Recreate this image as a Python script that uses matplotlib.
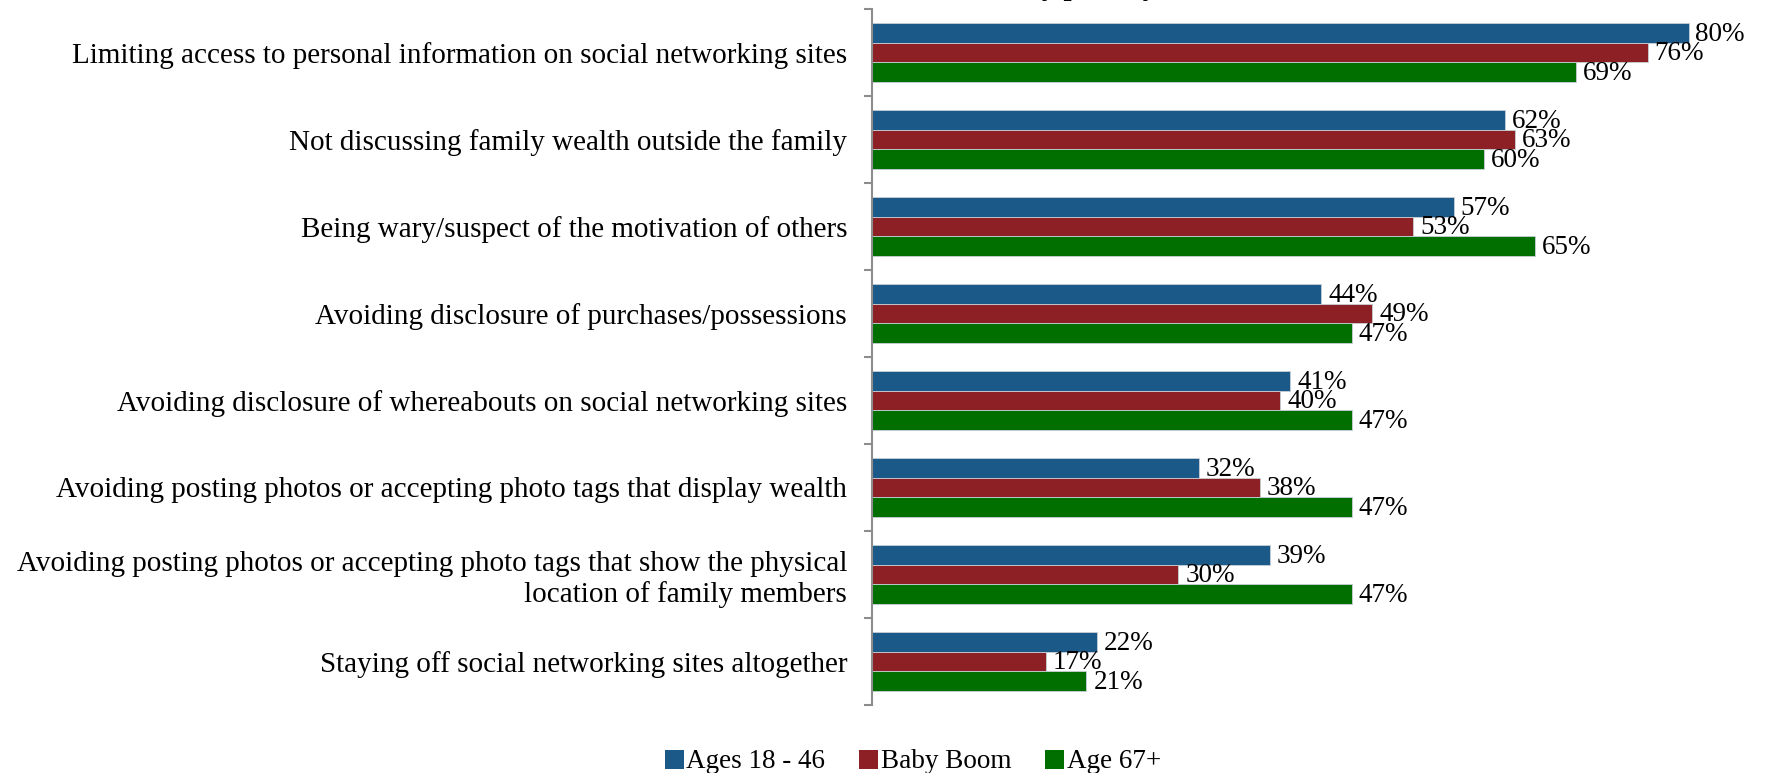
import matplotlib
matplotlib.use("Agg")
import matplotlib.pyplot as plt
from matplotlib.patches import Patch
import numpy as np

categories = [
    "Limiting access to personal information on social networking sites",
    "Not discussing family wealth outside the family",
    "Being wary/suspect of the motivation of others",
    "Avoiding disclosure of purchases/possessions",
    "Avoiding disclosure of whereabouts on social networking sites",
    "Avoiding posting photos or accepting photo tags that display wealth",
    "Avoiding posting photos or accepting photo tags that show the physical\nlocation of family members",
    "Staying off social networking sites altogether",
]
ages_18_46 = [80, 62, 57, 44, 41, 32, 39, 22]
baby_boom = [76, 63, 53, 49, 40, 38, 30, 17]
age_67_plus = [69, 60, 65, 47, 47, 47, 47, 21]

series_names = ["Ages 18 - 46", "Baby Boom", "Age 67+"]
colors = ["#1a5988", "#8c2024", "#006f00"]

plt.rcParams["font.family"] = ["Liberation Serif", "DejaVu Serif"]

fig = plt.figure(figsize=(17.66, 7.73), dpi=100)
ax = fig.add_axes([0.4938, 0.088, 0.497, 0.9004])

y = np.arange(len(categories))
h = 0.224
for k, (vals, col) in enumerate(zip([ages_18_46, baby_boom, age_67_plus], colors)):
    pos = y + (k - 1) * h
    ax.barh(pos, vals, height=h, color=col, edgecolor="#c8d0d8", linewidth=0.6)
    for p, v in zip(pos, vals):
        ax.annotate(f"{v}%", (v, p), xytext=(5, -1), textcoords="offset points",
                    va="center", ha="left", fontsize=19.5)

ax.set_xlim(0, 86)
ax.set_ylim(len(categories) - 0.5, -0.5)
ax.set_yticks(y)
ax.set_yticklabels(categories, fontsize=21, multialignment="right")
ax.tick_params(axis="y", which="major", length=0, pad=18)
ax.set_yticks(np.arange(len(categories) + 1) - 0.5, minor=True)
ax.tick_params(axis="y", which="minor", length=6, width=1.5, color="#8c8c8c")
ax.set_xticks([])
for s in ["top", "right", "bottom"]:
    ax.spines[s].set_visible(False)
ax.spines["left"].set_color("#8c8c8c")
ax.spines["left"].set_linewidth(1.5)

# title is pushed above the top edge, only its descenders show
fig.text(1157 / 1766, 1.006, "family privacy",
         ha="right", va="baseline", fontsize=21, fontweight="bold")

handles = [Patch(facecolor=c) for c in colors]
fig.legend(handles, series_names, loc="center", bbox_to_anchor=(913 / 1766, 1 - 762 / 773),
           ncol=3, frameon=False, fontsize=19.5, handlelength=0.7, handleheight=0.7,
           handletextpad=0.1, columnspacing=1.25, borderpad=0.0)

fig.savefig("out.png", dpi=100)
